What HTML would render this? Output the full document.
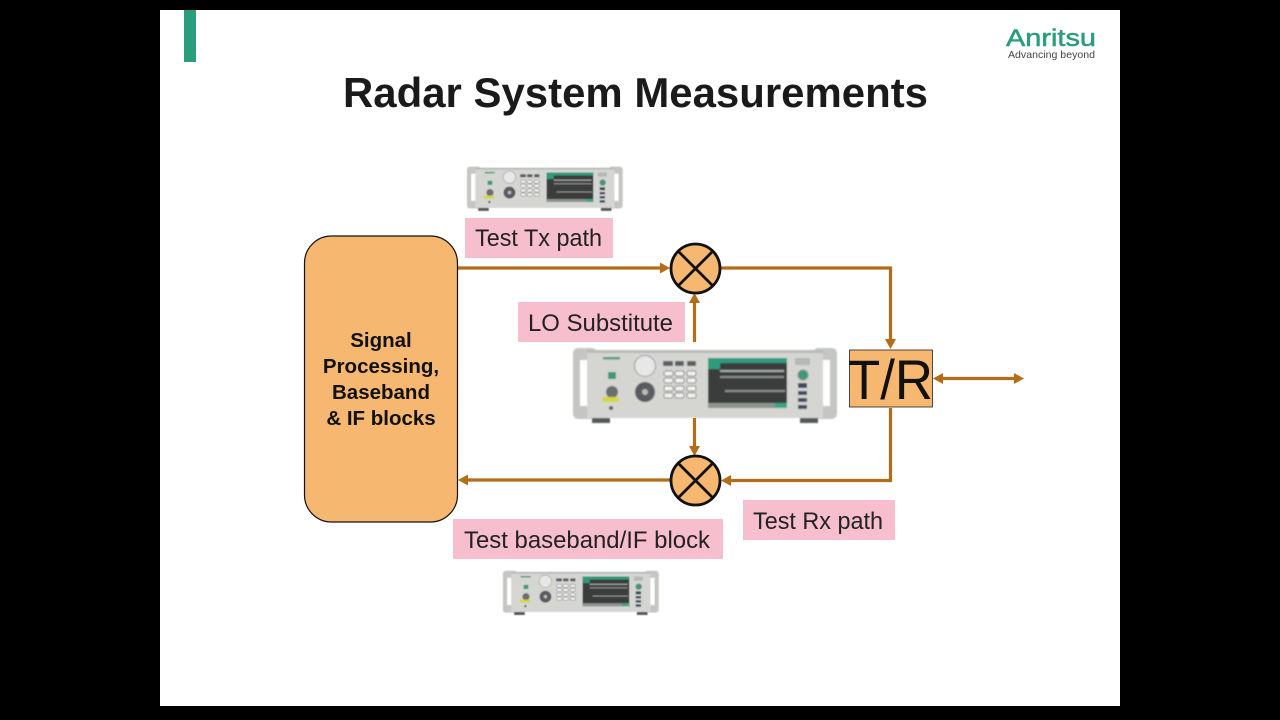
<!DOCTYPE html>
<html><head><meta charset="utf-8"><title>Radar System Measurements</title>
<style>html,body{margin:0;padding:0;background:#000;width:1280px;height:720px;overflow:hidden}svg{display:block}text{font-family:"Liberation Sans",sans-serif}</style></head>
<body>
<svg width="1280" height="720" viewBox="0 0 1280 720" xmlns="http://www.w3.org/2000/svg">
<defs>
<filter id="b" x="-5%" y="-5%" width="110%" height="110%"><feGaussianBlur stdDeviation="0.7"/></filter>
<g id="inst">
 <g filter="url(#b)">
 <rect x="13" y="8" width="24" height="71" rx="5" fill="#c4c6c3"/>
 <rect x="253" y="8" width="24" height="71" rx="5" fill="#c4c6c3"/>
 <rect x="20" y="20" width="12" height="46" fill="#fff"/>
 <rect x="258" y="20" width="12" height="46" fill="#fff"/>
 <rect x="32" y="76" width="18" height="7" fill="#55585a"/>
 <rect x="240" y="76" width="18" height="7" fill="#55585a"/>
 <rect x="27" y="10" width="236" height="68" fill="#d5d6d2"/>
 <rect x="27" y="10" width="236" height="3" fill="#b9bbb8"/>
 <rect x="43" y="17" width="17" height="2.500" fill="#4d9a78"/>
 <rect x="48" y="32" width="8" height="7" fill="#3d9a78"/>
 <circle cx="52" cy="52" r="6" fill="#6b6e6d"/>
 <rect x="42" y="57" width="17" height="5" fill="#d4d63c"/>
 <circle cx="51" cy="68" r="2" fill="#555"/>
 <circle cx="85" cy="26" r="10.500" fill="#e6e7e6" stroke="#999" stroke-width="1"/>
 <circle cx="85" cy="52" r="10" fill="#585b5f"/>
 <circle cx="85" cy="52" r="3" fill="#bbb"/>
 <g fill="#5d6062"><rect x="103" y="21" width="10" height="5" rx="1"/><rect x="115" y="21" width="9" height="5" rx="1"/><rect x="127" y="21" width="9" height="5" rx="1"/></g>
 <g fill="#f2f2f0" stroke="#63666a" stroke-width=".8">
  <rect x="104" y="31" width="9" height="5" rx="2"/><rect x="115" y="31" width="9" height="5" rx="2"/><rect x="127" y="31" width="9" height="5" rx="2"/>
  <rect x="104" y="38" width="9" height="5" rx="2"/><rect x="115" y="38" width="9" height="5" rx="2"/><rect x="127" y="38" width="9" height="5" rx="2"/>
  <rect x="104" y="46" width="9" height="5" rx="2"/><rect x="115" y="46" width="9" height="5" rx="2"/><rect x="127" y="46" width="9" height="5" rx="2"/>
  <rect x="104" y="53" width="9" height="5" rx="2"/><rect x="115" y="53" width="9" height="5" rx="2"/><rect x="127" y="53" width="9" height="5" rx="2"/>
 </g>
 <rect x="148" y="18" width="79" height="50" fill="#3a3c3e"/>
 <rect x="148" y="18" width="79" height="5" fill="#2e9b7d"/>
 <rect x="148" y="23" width="12" height="6" fill="#2e9b7d"/>
 <rect x="148" y="63" width="79" height="5" fill="#8d9490"/>
 <rect x="215" y="63" width="12" height="5" fill="#3aa585"/>
 <rect x="160" y="30" width="64" height="2" fill="#a9adab"/>
 <rect x="160" y="36" width="64" height="2" fill="#8b8f8d"/>
 <rect x="165" y="50" width="60" height="2" fill="#8b8f8d"/>
 <rect x="235" y="18" width="15" height="7" fill="#b6b8b5"/>
 <circle cx="243" cy="35" r="5" fill="#3d9a78" stroke="#8a8d8c"/>
 <g fill="#3c4a60"><rect x="238" y="43" width="9" height="5"/><rect x="238" y="51" width="9" height="4"/><rect x="238" y="58" width="9" height="4"/><rect x="238" y="65" width="9" height="4"/></g>
 </g>
</g>
</defs>
<rect x="160" y="10" width="960" height="696" fill="#fff"/>
<rect x="184" y="10" width="12" height="52" fill="#2a9d7c"/>

<text x="1006" y="46" font-size="24" fill="#2a9d7c" stroke="#2a9d7c" stroke-width=".5" textLength="90" lengthAdjust="spacingAndGlyphs">Anritsu</text>
<text x="1008" y="58" font-size="10.500" fill="#444" textLength="87" lengthAdjust="spacingAndGlyphs">Advancing beyond</text>

<text x="343" y="107" font-size="42" font-weight="bold" fill="#1a1a1a" textLength="585" lengthAdjust="spacingAndGlyphs">Radar System Measurements</text>

<use href="#inst" transform="translate(459.3,161.900) scale(.59)"/>
<use href="#inst" transform="translate(495.3,566) scale(.59)"/>
<use href="#inst" transform="translate(560,340)"/>

<g fill="none" stroke="#b26d16" stroke-width="3.200">
 <path d="M458 268H662"/>
 <path d="M721 268H890.500V340"/>
 <path d="M890.500 408V480.500H730"/>
 <path d="M670 480H466"/>
 <path d="M694.500 342V302"/>
 <path d="M694.500 418V447"/>
 <path d="M942 378.500H1014"/>
</g>
<g fill="#b26d16">
 <path d="M670 268L660 262.500V273.500Z"/>
 <path d="M890.500 349L885 339H896Z"/>
 <path d="M721 480.500L731 475V486Z"/>
 <path d="M458 480L468 474.500V485.500Z"/>
 <path d="M694.500 293L689 303H700Z"/>
 <path d="M694.500 456L689 446H700Z"/>
 <path d="M933 378.500L943 373V384Z"/>
 <path d="M1024 378.500L1014 373V384Z"/>
</g>

<rect x="304.500" y="236" width="153" height="286" rx="27" fill="#f6b870" stroke="#111" stroke-width="1.200"/>
<g font-size="20.500" font-weight="bold" fill="#111" text-anchor="middle">
 <text x="381" y="347">Signal</text>
 <text x="381" y="373">Processing,</text>
 <text x="381" y="399">Baseband</text>
 <text x="381" y="425">&amp; IF blocks</text>
</g>

<g stroke="#111" stroke-width="2.800">
 <circle cx="695.500" cy="268.500" r="24.500" fill="#f6b870"/>
 <path d="M678 251L713 286M713 251L678 286"/>
 <circle cx="695.500" cy="480.500" r="24.500" fill="#f6b870"/>
 <path d="M678 463L713 498M713 463L678 498"/>
</g>

<rect x="849.500" y="350" width="83" height="57" fill="#f6b870" stroke="#222" stroke-width=".8"/>
<text x="848" y="399" font-size="56" fill="#111" textLength="85" lengthAdjust="spacingAndGlyphs">T/R</text>

<g fill="#f7bfce">
 <rect x="465" y="218" width="148" height="40"/>
 <rect x="518" y="302" width="167" height="40"/>
 <rect x="743" y="500" width="152" height="40"/>
 <rect x="453" y="519" width="270" height="40"/>
</g>
<g font-size="24" fill="#222">
 <text x="475" y="246" textLength="127" lengthAdjust="spacingAndGlyphs">Test Tx path</text>
 <text x="528" y="331" textLength="145" lengthAdjust="spacingAndGlyphs">LO Substitute</text>
 <text x="753" y="529" textLength="130" lengthAdjust="spacingAndGlyphs">Test Rx path</text>
 <text x="464" y="548" textLength="246" lengthAdjust="spacingAndGlyphs">Test baseband/IF block</text>
</g>
</svg>
</body></html>
